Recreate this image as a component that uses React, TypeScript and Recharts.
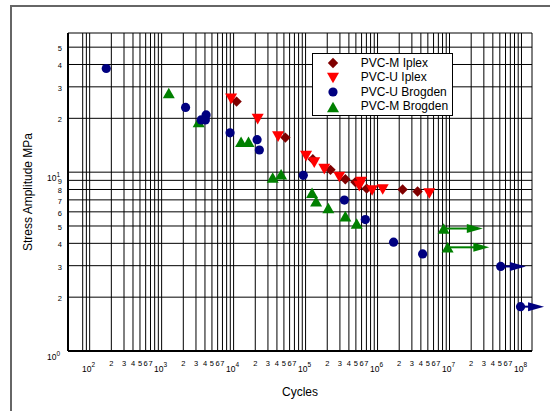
import React from "react";
import {
  ScatterChart,
  Scatter,
  XAxis,
  YAxis,
  CartesianGrid,
  Legend,
  ReferenceLine,
} from "recharts";

const FONT = '"Liberation Sans", Arial, Helvetica, sans-serif';

// cycles (n) vs stress amplitude in MPa (s)
const pvcMIplex = [
  { n: 11000, s: 24.8 },
  { n: 52400, s: 15.6 },
  { n: 126000, s: 11.8 },
  { n: 222000, s: 10.3 },
  { n: 357000, s: 9.12 },
  { n: 492000, s: 8.8 },
  { n: 706000, s: 8.09 },
  { n: 2230000, s: 8.0 },
  { n: 3600000, s: 7.79 },
];

const pvcUIplex = [
  { n: 9230, s: 25.7 },
  { n: 21600, s: 19.8 },
  { n: 41500, s: 15.8 },
  { n: 101600, s: 12.3 },
  { n: 132000, s: 11.3 },
  { n: 182000, s: 10.4 },
  { n: 294000, s: 9.4 },
  { n: 558000, s: 8.36 },
  { n: 590000, s: 8.81 },
  { n: 840000, s: 7.9 },
  { n: 1180000, s: 8.0 },
  { n: 5240000, s: 7.6 },
];

const pvcUBrogden = [
  { n: 170, s: 38 },
  { n: 2150, s: 23 },
  { n: 3540, s: 19.6 },
  { n: 4050, s: 19.6 },
  { n: 4150, s: 20.9 },
  { n: 8930, s: 16.6 },
  { n: 21200, s: 15.2 },
  { n: 22800, s: 13.3 },
  { n: 93000, s: 9.6 },
  { n: 346000, s: 6.98 },
  { n: 677000, s: 5.43 },
  { n: 1670000, s: 4.06 },
  { n: 4230000, s: 3.49 },
];

const pvcMBrogden = [
  { n: 1257, s: 27.7 },
  { n: 3270, s: 19.1 },
  { n: 12700, s: 14.8 },
  { n: 16100, s: 14.8 },
  { n: 34900, s: 9.33 },
  { n: 45700, s: 9.73 },
  { n: 123000, s: 7.67 },
  { n: 140000, s: 6.88 },
  { n: 207000, s: 6.3 },
  { n: 357000, s: 5.68 },
  { n: 513000, s: 5.16 },
];

// run-outs: specimen still unbroken, arrow drawn out to "to"
const pvcUBrogdenRunouts = [
  { n: 51400000, s: 2.97, to: 115000000 },
  { n: 97000000, s: 1.77, to: 206000000 },
];

const pvcMBrogdenRunouts = [
  { n: 8280000, s: 4.84, to: 29000000 },
  { n: 9400000, s: 3.8, to: 35700000 },
];

const X_TICKS = [
  80, 90,
  1e2, 2e2, 3e2, 4e2, 5e2, 6e2, 7e2, 8e2, 9e2,
  1e3, 2e3, 3e3, 4e3, 5e3, 6e3, 7e3, 8e3, 9e3,
  1e4, 2e4, 3e4, 4e4, 5e4, 6e4, 7e4, 8e4, 9e4,
  1e5, 2e5, 3e5, 4e5, 5e5, 6e5, 7e5, 8e5, 9e5,
  1e6, 2e6, 3e6, 4e6, 5e6, 6e6, 7e6, 8e6, 9e6,
  1e7, 2e7, 3e7, 4e7, 5e7, 6e7, 7e7, 8e7, 9e7,
  1e8,
];

const Y_TICKS = [1, 2, 3, 4, 5, 6, 7, 8, 9, 10, 20, 30, 40, 50];

const SERIES = [
  { name: "PVC-M Iplex", color: "#800000", marker: "diamond", data: pvcMIplex, runouts: [] as any[] },
  { name: "PVC-U Iplex", color: "#ff0000", marker: "down", data: pvcUIplex, runouts: [] as any[] },
  { name: "PVC-U Brogden", color: "#000080", marker: "circle", data: pvcUBrogden, runouts: pvcUBrogdenRunouts },
  { name: "PVC-M Brogden", color: "#008000", marker: "up", data: pvcMBrogden, runouts: pvcMBrogdenRunouts },
];

// paint order: green underneath, blue on top
const DRAW_ORDER = [3, 0, 1, 2];

function Marker({ cx, cy, type, color }: { cx: number; cy: number; type: string; color: string }) {
  if (type === "diamond") {
    const r = 5.2;
    return <path d={`M${cx},${cy - r}L${cx + r},${cy}L${cx},${cy + r}L${cx - r},${cy}Z`} fill={color} />;
  }
  if (type === "down") {
    return <path d={`M${cx - 6},${cy - 5.3}L${cx + 6},${cy - 5.3}L${cx},${cy + 5.3}Z`} fill={color} />;
  }
  if (type === "up") {
    return <path d={`M${cx},${cy - 5.3}L${cx + 6},${cy + 5.3}L${cx - 6},${cy + 5.3}Z`} fill={color} />;
  }
  return <circle cx={cx} cy={cy} r={4.6} fill={color} />;
}

function isPow10(v: number) {
  const e = Math.log10(v);
  return Math.abs(e - Math.round(e)) < 1e-6;
}

function XTick(props: any) {
  const { x, y, payload } = props;
  const v = payload.value;
  if (isPow10(v)) {
    return (
      <text x={x - 1} y={y + 20.5} textAnchor="middle" fontFamily={FONT} fontSize={8.5} fill="#000">
        <tspan>10</tspan>
        <tspan fontSize={6.5} dy={-5}>{Math.round(Math.log10(v))}</tspan>
      </text>
    );
  }
  const d = Math.round(v / Math.pow(10, Math.floor(Math.log10(v) + 1e-9)));
  if (v < 100 || d > 7) return <g />;
  return (
    <text x={x} y={y + 15} textAnchor="middle" fontFamily={FONT} fontSize={7.5} fill="#000">
      {d}
    </text>
  );
}

function YTick(props: any) {
  const { x, y, payload } = props;
  const v = payload.value;
  if (isPow10(v)) {
    return (
      <text x={x - 8} y={y + 8.5} textAnchor="end" fontFamily={FONT} fontSize={8.5} fill="#000">
        <tspan>10</tspan>
        <tspan fontSize={6.5} dy={-4}>{Math.round(Math.log10(v))}</tspan>
      </text>
    );
  }
  const d = Math.round(v / Math.pow(10, Math.floor(Math.log10(v) + 1e-9)));
  return (
    <text x={x - 6} y={y + 4} textAnchor="end" fontFamily={FONT} fontSize={7.5} fill="#000">
      {d}
    </text>
  );
}

function Arrow(props: any) {
  const { x1, y1, x2, color } = props;
  const head = 16;
  return (
    <g>
      <line x1={x1} y1={y1} x2={x2 - head + 2} y2={y1} stroke={color} strokeWidth={2} />
      <path d={`M${x2 - head},${y1 - 4.5}L${x2},${y1}L${x2 - head},${y1 + 4.5}Z`} fill={color} />
    </g>
  );
}

function LegendBox() {
  return (
    <div
      style={{
        boxSizing: "border-box",
        width: 141,
        height: 63,
        border: "1px solid #000",
        background: "#fff",
        position: "relative",
        fontFamily: FONT,
        fontSize: 12,
        color: "#000",
      }}
    >
      {SERIES.map((s, i) => (
        <div key={s.name} style={{ position: "absolute", left: 0, top: 1.5 + i * 14.5, height: 14.5, width: "100%" }}>
          <svg width={16} height={14} style={{ position: "absolute", left: 11.6, top: 0.5 }}>
            <Marker cx={8} cy={7} type={s.marker} color={s.color} />
          </svg>
          <span style={{ position: "absolute", left: 47.7, top: 0, lineHeight: "14.5px", whiteSpace: "nowrap" }}>
            {s.name}
          </span>
        </div>
      ))}
    </div>
  );
}

export default function App() {
  return (
    <div style={{ position: "absolute", left: 0, top: 0, width: 550, height: 411, overflow: "hidden", background: "#fff" }}>
      <ScatterChart width={550} height={411} margin={{ top: 33, right: 18, left: 10, bottom: 10 }}>
        <CartesianGrid stroke="#000" strokeWidth={1} />
        <XAxis
          type="number"
          dataKey="n"
          scale="log"
          domain={[50, 1.4e8]}
          allowDataOverflow
          ticks={X_TICKS}
          interval={0}
          tick={<XTick />}
          tickLine={false}
          tickSize={0}
          tickMargin={0}
          height={50}
          axisLine={{ stroke: "#000", strokeWidth: 2 }}
          label={{ value: "Cycles", position: "center", dy: 16, fontFamily: FONT, fontSize: 12, fill: "#000" }}
        />
        <YAxis
          type="number"
          dataKey="s"
          scale="log"
          domain={[1, 60]}
          allowDataOverflow
          ticks={Y_TICKS}
          interval={0}
          tick={<YTick />}
          tickLine={false}
          tickSize={0}
          tickMargin={0}
          width={58}
          axisLine={{ stroke: "#000", strokeWidth: 2 }}
          label={{
            value: "Stress Amplitude MPa",
            angle: -90,
            position: "center",
            dx: -11,
            fontFamily: FONT,
            fontSize: 12,
            fill: "#000",
          }}
        />
        <Legend
          layout="vertical"
          align="center"
          verticalAlign="middle"
          content={() => <LegendBox />}
          wrapperStyle={{ position: "absolute", left: 312, top: 53, width: 141, height: 63 }}
        />
        {SERIES.flatMap((s) =>
          s.runouts.map((r, i) => (
            <ReferenceLine
              key={`${s.name}-ro-${i}`}
              segment={[
                { x: r.n, y: r.s },
                { x: r.to, y: r.s },
              ]}
              ifOverflow="visible"
              shape={(p: any) => <Arrow {...p} color={s.color} />}
            />
          ))
        )}
        {DRAW_ORDER.map((idx) => {
          const s = SERIES[idx];
          return (
            <Scatter
              key={s.name}
              name={s.name}
              data={[...s.data, ...s.runouts.map((r) => ({ n: r.n, s: r.s }))]}
              fill={s.color}
              isAnimationActive={false}
              shape={(p: any) => <Marker cx={p.cx} cy={p.cy} type={s.marker} color={s.color} />}
            />
          );
        })}
      </ScatterChart>
      <div
        style={{
          position: "absolute",
          left: 10,
          top: 5,
          width: 600,
          height: 500,
          borderTop: "2px solid #666",
          borderLeft: "2px solid #666",
          pointerEvents: "none",
        }}
      />
    </div>
  );
}
